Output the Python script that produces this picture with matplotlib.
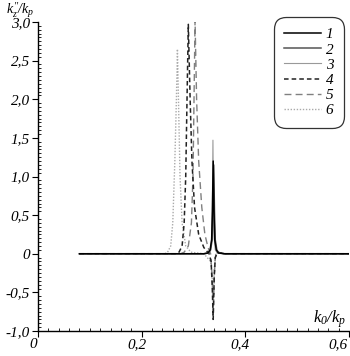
import matplotlib
matplotlib.use("Agg")
import matplotlib.pyplot as plt
from matplotlib.ticker import MultipleLocator, FuncFormatter, NullFormatter
from matplotlib.transforms import ScaledTranslation

plt.rcParams['mathtext.fontset'] = 'custom'
plt.rcParams['mathtext.rm'] = 'Liberation Serif'
plt.rcParams['mathtext.it'] = 'Liberation Serif:italic'
plt.rcParams['font.family'] = 'Liberation Serif'
plt.rcParams['font.style'] = 'italic'

# curve data
x1 = [0.08, 0.32, 0.328, 0.332, 0.335, 0.3365, 0.338, 0.3395, 0.341, 0.344, 0.348, 0.36, 0.6]
y1 = [0, 0, 0.01, 0.05, 0.18, 0.55, 1.20, 0.55, 0.18, 0.05, 0.01, 0, 0]
x2 = [0.08, 0.32, 0.329, 0.333, 0.336, 0.3375, 0.339, 0.3405, 0.342, 0.345, 0.349, 0.36, 0.6]
y2 = [0, 0, 0.01, 0.05, 0.18, 0.55, 1.15, 0.55, 0.18, 0.05, 0.01, 0, 0]
x3 = [0.08, 0.32, 0.329, 0.333, 0.335, 0.3363, 0.3375, 0.3387, 0.340, 0.342, 0.346, 0.36, 0.6]
y3 = [0, 0, 0.01, 0.05, 0.2, 0.6, 1.47, 0.6, 0.2, 0.05, 0.01, 0, 0]
x4 = [0.08, 0.265, 0.272, 0.278, 0.282, 0.285, 0.2875, 0.290, 0.2935, 0.297, 0.302, 0.310,
      0.320, 0.330, 0.334, 0.336, 0.338, 0.340, 0.342, 0.346, 0.36, 0.6]
y4 = [0, 0, 0.02, 0.1, 0.4, 1.0, 2.0, 2.97, 2.0, 1.2, 0.6, 0.25,
      0.08, 0.0, -0.1, -0.4, -0.85, -0.3, -0.05, 0.02, 0, 0]
x5 = [0.08, 0.275, 0.282, 0.290, 0.296, 0.299, 0.301, 0.303, 0.306, 0.310, 0.316, 0.322,
      0.328, 0.333, 0.336, 0.338, 0.340, 0.342, 0.346, 0.36, 0.6]
y5 = [0, 0, 0.02, 0.1, 0.4, 1.0, 2.0, 3.02, 2.0, 1.2, 0.6, 0.25,
      0.08, 0.0, -0.3, -0.8, -0.3, -0.05, 0.02, 0, 0]
x6 = [0.08, 0.245, 0.250, 0.256, 0.260, 0.264, 0.267, 0.269, 0.271, 0.274, 0.278, 0.285,
      0.295, 0.320, 0.333, 0.336, 0.338, 0.340, 0.343, 0.36, 0.6]
y6 = [0, 0, 0.02, 0.1, 0.4, 1.2, 2.0, 2.65, 2.0, 1.0, 0.4, 0.1,
      0.02, 0.0, -0.1, -0.3, -0.6, -0.2, 0.01, 0, 0]

labels = ["1", "2", "3", "4", "5", "6"]
xticks = [0, 0.2, 0.4, 0.6]
xticklabels = ["0", "0,2", "0,4", "0,6"]

fig = plt.figure(figsize=(3.5, 3.56), dpi=100)
ax = fig.add_axes([38/350, 1-331/356, 311/350, 309/356])

ax.plot(x6, y6, color='#aaaaaa', lw=1.0, ls=(0, (1, 1.2)), label=labels[5], zorder=2)
ax.plot(x5, y5, color='#808080', lw=1.0, ls=(0, (5, 3)), label=labels[4], zorder=2)
ax.plot(x4, y4, color='#222222', lw=1.1, ls=(0, (3, 2)), label=labels[3], zorder=3)
ax.plot(x3, y3, color='#999999', lw=0.8, label=labels[2], zorder=4)
ax.plot(x2, y2, color='#555555', lw=1.1, label=labels[1], zorder=4)
ax.plot(x1, y1, color='#000000', lw=1.1, label=labels[0], zorder=5)

ax.set_xlim(0, 0.6)
ax.set_ylim(-1, 3)
for s in ['top', 'right']:
    ax.spines[s].set_visible(False)
ax.spines['left'].set_linewidth(1.0)
ax.spines['bottom'].set_linewidth(1.0)

ax.set_xticks(xticks)
ax.xaxis.set_major_formatter(NullFormatter())
ax.xaxis.set_minor_locator(MultipleLocator(0.02))
ax.yaxis.set_major_locator(MultipleLocator(0.5))
ax.yaxis.set_minor_locator(MultipleLocator(0.05))

def fmt(v, pos):
    if abs(v) < 1e-9:
        return "0"
    return ("%.1f" % v).replace('.', ',')

ax.yaxis.set_major_formatter(FuncFormatter(fmt))
ax.tick_params(which='major', direction='out', length=4, width=0.8, labelsize=11, pad=2)
ax.tick_params(which='minor', direction='in', length=2.5, width=0.6)

for i, (v, s) in enumerate(zip(xticks, xticklabels)):
    last = (i == len(xticks) - 1)
    dx = -1 if last else -5
    off = ScaledTranslation(dx/100, -7/100, fig.dpi_scale_trans)
    ax.text(v, 0, s, transform=ax.get_xaxis_transform() + off,
            ha='right' if last else 'center', va='top', fontsize=11, clip_on=False)

fig.text(6/350, 1-0.5/356, r"$k_z^{\prime\prime}/k_p$", fontsize=10, va='top', ha='left')
fig.text(346/350, 1-319/356, r"$k_0/k_p$", fontsize=12, va='center', ha='right')

handles, labs = ax.get_legend_handles_labels()
order = [5, 4, 3, 2, 1, 0]
leg = ax.legend([handles[i] for i in order], [labs[i] for i in order],
                loc='upper right', bbox_to_anchor=(344/350, 1-17/356),
                bbox_transform=fig.transFigure, frameon=True, fancybox=True,
                handlelength=2.4, handletextpad=0.3, labelspacing=0.1,
                borderpad=0.5, borderaxespad=0.2,
                prop={'family': 'Liberation Serif', 'style': 'italic', 'size': 11})
leg.get_frame().set_edgecolor('black')
leg.get_frame().set_linewidth(0.9)
leg.get_frame().set_boxstyle('round,pad=0.2,rounding_size=0.8')

fig.savefig("out.png", dpi=100)
